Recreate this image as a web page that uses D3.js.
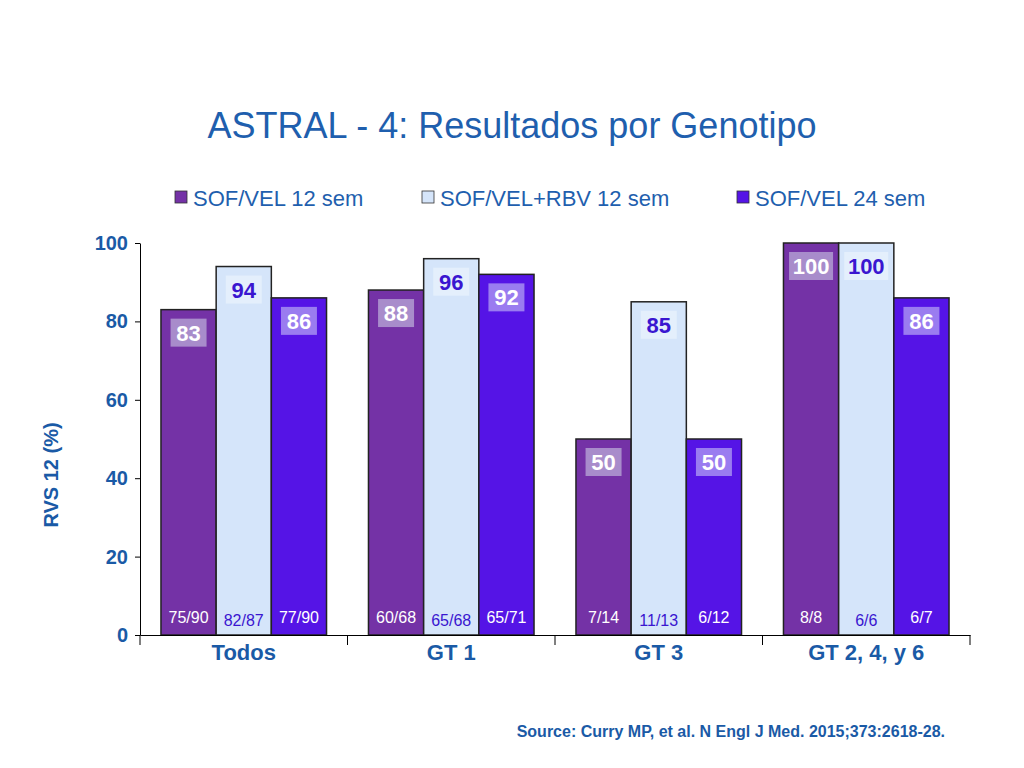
<!DOCTYPE html><html><head><meta charset="utf-8"><script src="https://cdn.jsdelivr.net/npm/d3@7"></script>
<style>body{margin:0;background:#fff}text{font-family:"Liberation Sans",Arial,sans-serif}</style></head><body><svg id="c" width="1024" height="768"></svg>
<script>
const categories=["Todos","GT 1","GT 3","GT 2, 4, y 6"];
const seriesNames=["SOF/VEL 12 sem","SOF/VEL+RBV 12 sem","SOF/VEL 24 sem"];
const values=[[83,88,50,100],[94,96,85,100],[86,92,50,86]];
const fractions=[["75/90","60/68","7/14","8/8"],["82/87","65/68","11/13","6/6"],["77/90","65/71","6/12","6/7"]];
const yTicks=[0,20,40,60,80,100];
const fills=["#7432a6","#d5e5fa","#5514e6"];
const boxFills=["#a88ccb","#e4effc","#9a7cf0"];
const textFills=["#fff","#3a16d0","#fff"];
const svg=d3.select("#c");
const x=d3.scaleBand().domain(categories).range([140,970]);
const xs=d3.scaleBand().domain(d3.range(3)).range([0,x.bandwidth()]).paddingOuter(0.38).paddingInner(0);
const y=d3.scaleLinear().domain([0,100]).range([635,243]);
const blue="#1a5aa6";
svg.append("text").attr("x",512).attr("y",138).attr("text-anchor","middle").attr("font-size",36).attr("fill","#1f5fae").text("ASTRAL - 4: Resultados por Genotipo");
const lx=[175,422,737];
seriesNames.forEach((s,i)=>{
 svg.append("rect").attr("x",lx[i]).attr("y",191).attr("width",12).attr("height",12).attr("fill",fills[i]).attr("stroke","#333").attr("stroke-width",0.8);
 svg.append("text").attr("x",lx[i]+18).attr("y",206).attr("font-size",22).attr("fill","#1f5fae").text(s);
});
const ya=svg.append("g").attr("transform","translate(140,0)").call(d3.axisLeft(y).tickValues(yTicks).tickSize(5).tickSizeOuter(0));
ya.selectAll("text").attr("font-size",20).attr("font-weight","bold").attr("fill",blue).attr("dx",-4);
ya.selectAll("line,path").attr("stroke","#000");
svg.append("text").attr("transform","translate(58,475) rotate(-90)").attr("text-anchor","middle").attr("font-size",20).attr("font-weight","bold").attr("fill",blue).text("RVS  12 (%)");
values.forEach((vals,si)=>{
 categories.forEach((c,ci)=>{
  const v=vals[ci],bx=x(c)+xs(si),w=xs.bandwidth();
  svg.append("rect").attr("x",bx).attr("y",y(v)).attr("width",w).attr("height",y(0)-y(v)).attr("fill",fills[si]).attr("stroke","#222").attr("stroke-width",1.5);
  const bw=v>=100?44:36;
  svg.append("rect").attr("x",bx+w/2-bw/2).attr("y",y(v)+9).attr("width",bw).attr("height",28).attr("fill",boxFills[si]);
  svg.append("text").attr("x",bx+w/2).attr("y",y(v)+31).attr("text-anchor","middle").attr("font-size",22).attr("font-weight","bold").attr("fill",textFills[si]).text(v);
  svg.append("text").attr("x",bx+w/2).attr("y",si==1?626:623).attr("text-anchor","middle").attr("font-size",16).attr("fill",textFills[si]).text(fractions[si][ci]);
 });
});
const xa=svg.append("g").attr("transform","translate(0,635)").call(d3.axisBottom(x).tickSize(0).tickSizeOuter(0));
xa.select("path").attr("stroke","#000");
xa.selectAll("text").attr("font-size",22).attr("font-weight","bold").attr("fill",blue).attr("dy",22);
categories.concat([null]).forEach(c=>{const tx=c?x(c):970;svg.append("line").attr("x1",tx).attr("x2",tx).attr("y1",635).attr("y2",645).attr("stroke","#000");});
svg.append("text").attr("x",945).attr("y",737).attr("text-anchor","end").attr("font-size",16).attr("font-weight","bold").attr("fill",blue).text("Source: Curry MP, et al. N Engl J Med. 2015;373:2618-28.");
</script></body></html>
